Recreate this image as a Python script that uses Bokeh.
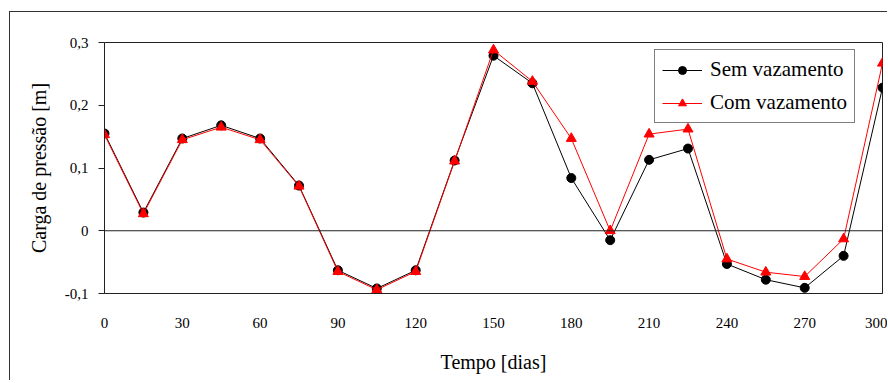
from bokeh.plotting import figure
from bokeh.models import Range1d, FixedTicker, Span, Legend, LegendItem
from bokeh.embed import file_html
from bokeh.resources import INLINE

days = [0, 15, 30, 45, 60, 75, 90, 105, 120, 135, 150, 165, 180, 195, 210, 225, 240, 255, 270, 285, 300]
sem_vazamento = [0.155, 0.029, 0.147, 0.168, 0.147, 0.072, -0.063, -0.092, -0.063, 0.112, 0.279,
                 0.235, 0.084, -0.015, 0.113, 0.131, -0.053, -0.078, -0.091, -0.040, 0.228]
com_vazamento = [0.153, 0.027, 0.145, 0.165, 0.145, 0.071, -0.065, -0.094, -0.065, 0.111, 0.288,
                 0.238, 0.147, 0.000, 0.154, 0.162, -0.045, -0.066, -0.073, -0.013, 0.267]
x_ticks = [0, 30, 60, 90, 120, 150, 180, 210, 240, 270, 300]
y_ticks = [-0.1, 0, 0.1, 0.2, 0.3]
y_tick_labels = ["-0,1", "0", "0,1", "0,2", "0,3"]

FONT = "Liberation Serif"

p = figure(width=878, height=369, output_backend="svg", toolbar_location=None,
           x_range=Range1d(0, 300), y_range=Range1d(-0.1, 0.3),
           min_border_left=94, min_border_right=6, min_border_top=30, min_border_bottom=88)
p.styles = {"border-top": "1px solid #333333", "border-left": "1px solid #333333",
            "margin-top": "11px", "margin-left": "9px"}
p.background_fill_color = "white"
p.border_fill_color = "white"
p.outline_line_color = "#222222"
p.outline_line_width = 1
p.xgrid.visible = False
p.ygrid.visible = False

# axes
p.xaxis.ticker = FixedTicker(ticks=x_ticks)
p.yaxis.ticker = FixedTicker(ticks=y_ticks)
p.yaxis.major_label_overrides = {t: l for t, l in zip(y_ticks, y_tick_labels)}
p.xaxis.major_label_overrides = {t: str(t) for t in x_ticks}
for ax in (p.xaxis[0], p.yaxis[0]):
    ax.major_label_text_font = FONT
    ax.major_label_text_font_size = "15px"
    ax.major_label_text_color = "black"
    ax.axis_label_text_font = FONT
    ax.axis_label_text_font_size = "20px"
    ax.axis_label_text_font_style = "normal"
    ax.axis_label_text_color = "black"
    ax.minor_tick_line_color = None
    ax.axis_line_color = "#222222"
    ax.major_tick_line_color = "#222222"
p.xaxis.major_tick_out = 0
p.xaxis.major_tick_in = 0
p.xaxis.major_label_standoff = 24
p.xaxis.axis_label = "Tempo [dias]"
p.xaxis.axis_label_standoff = 20
p.yaxis.major_tick_out = 6
p.yaxis.major_tick_in = 0
p.yaxis.major_label_standoff = 10
p.yaxis.axis_label = "Carga de pressão [m]"
p.yaxis.axis_label_standoff = 12

p.add_layout(Span(location=0, dimension="width", line_color="#222222", line_width=1))

l1 = p.line(days, sem_vazamento, line_color="black", line_width=1)
s1 = p.scatter(days, sem_vazamento, marker="circle", size=9, fill_color="black", line_color="black")
l2 = p.line(days, com_vazamento, line_color="red", line_width=1)
s2 = p.scatter(days, com_vazamento, marker="triangle", size=10, fill_color="red", line_color="red")

legend = Legend(items=[LegendItem(label="Sem vazamento", renderers=[l1, s1]),
                       LegendItem(label="Com vazamento", renderers=[l2, s2])],
                location=(550, 170))
legend.label_text_font = FONT
legend.label_text_font_size = "21px"
legend.label_text_color = "black"
legend.border_line_color = "black"
legend.border_line_width = 1
legend.background_fill_color = "white"
legend.background_fill_alpha = 1
legend.glyph_width = 40
legend.glyph_height = 20
legend.label_height = 24
legend.spacing = 8
legend.padding = 7
legend.margin = 0
legend.label_standoff = 8
p.add_layout(legend, "center")

open("out.html", "w").write(file_html(p, INLINE))
